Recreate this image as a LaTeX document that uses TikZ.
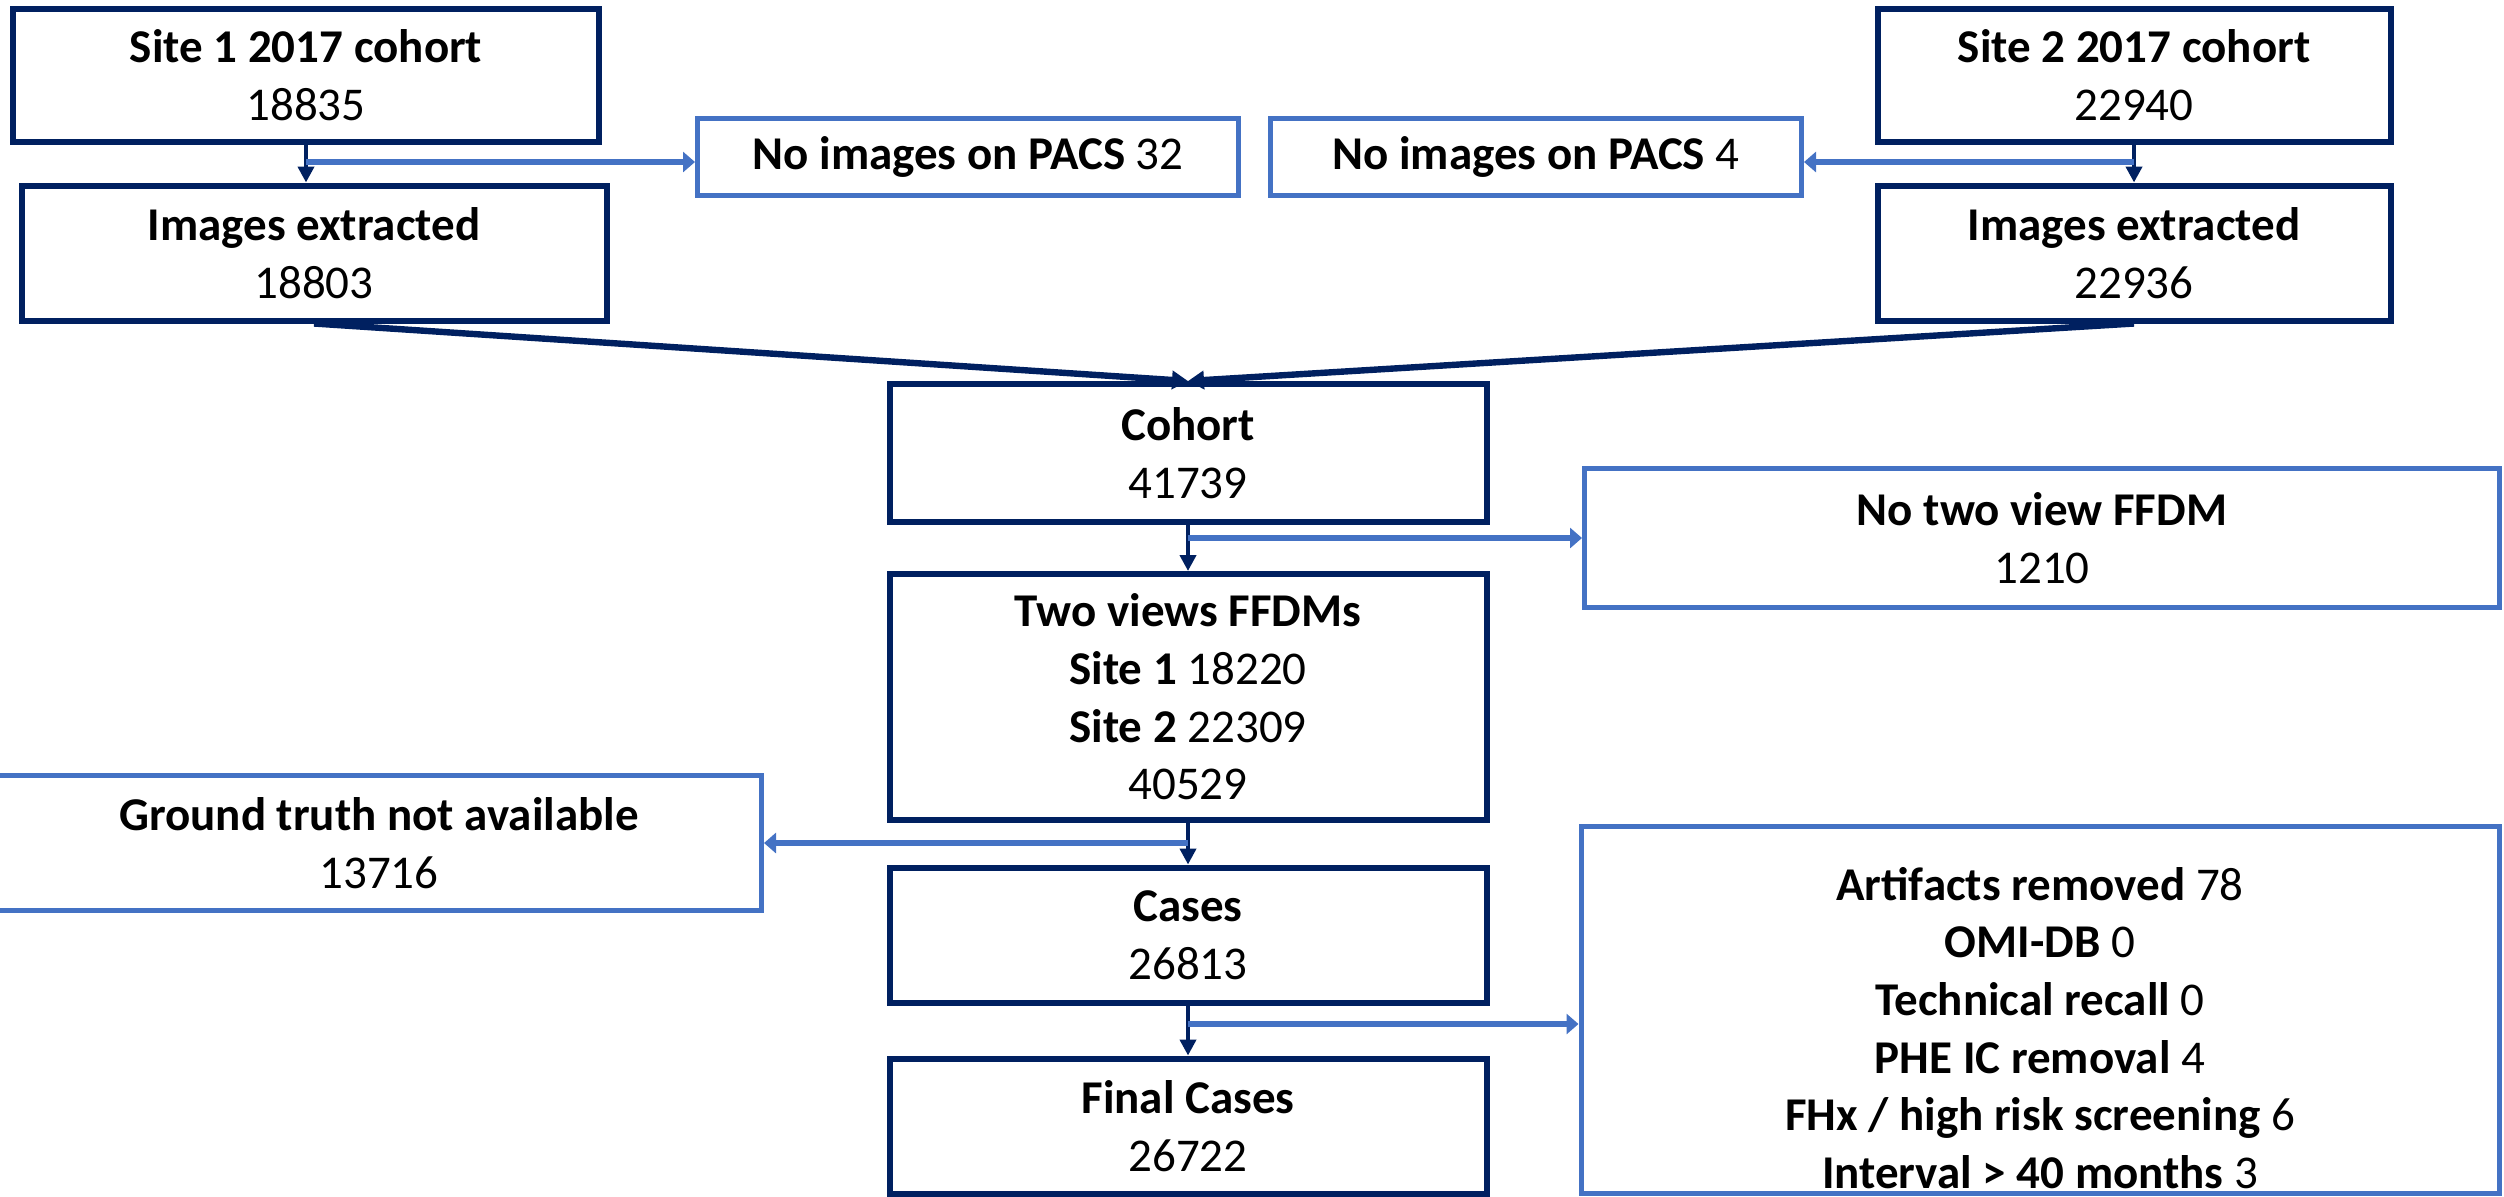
\documentclass[tikz,border=0pt]{standalone}
\usepackage{fontspec}
\setmainfont{Carlito}
\usetikzlibrary{arrows.meta}
\definecolor{navy}{HTML}{002060}
\definecolor{lblue}{HTML}{4472C4}
\tikzset{
  dbox/.style={draw=navy, line width=3pt, fill=white, align=center, inner sep=0pt,
    font=\fontsize{23.5}{28.8}\selectfont},
  lbox/.style={draw=lblue, line width=2.5pt, fill=white, align=center, inner sep=0pt,
    font=\fontsize{23.5}{28.8}\selectfont},
  txt/.style={align=center, inner sep=0pt, font=\fontsize{23.5}{28.8}\selectfont},
  darr/.style={draw=navy, line width=2.4pt, -{Triangle[length=8pt,width=8pt]}},
  dline/.style={draw=navy, line width=3.2pt, -{Triangle[length=8pt,width=9pt]}},
  larr/.style={draw=lblue, line width=2.8pt, -{Triangle[length=6pt,width=10pt]}},
}
\begin{document}
\begin{tikzpicture}[x=0.5pt,y=-0.5pt]
\useasboundingbox (0,0) rectangle (2504,1196);
% boxes
\node[dbox, minimum width=293pt, minimum height=66.5pt] (site1) at (306,75) {\textbf{Site 1 2017 cohort}\\18835};
\node[dbox, minimum width=292.5pt, minimum height=67.5pt] (img1) at (314,253) {\textbf{Images extracted}\\18803};
\node[lbox, minimum width=270.5pt, minimum height=38.5pt] (pacs1) at (968,157) {\textbf{No images on PACS} 32};
\node[lbox, minimum width=265.5pt, minimum height=38.5pt] (pacs2) at (1536,157) {\textbf{No images on PACS} 4};
\node[dbox, minimum width=256.5pt, minimum height=66.5pt] (site2) at (2134,75) {\textbf{Site 2 2017 cohort}\\22940};
\node[dbox, minimum width=256.5pt, minimum height=67.5pt] (img2) at (2134,253) {\textbf{Images extracted}\\22936};
\node[dbox, minimum width=298.5pt, minimum height=69pt] (cohort) at (1188,453) {\textbf{Cohort}\\41739};
\node[lbox, minimum width=457.5pt, minimum height=69.5pt] (notwo) at (2042,538) {\textbf{No two view FFDM}\\1210};
\node[dbox, minimum width=298.5pt, minimum height=123pt] (two) at (1188,697) {\textbf{Two views FFDMs}\\\textbf{Site 1} 18220\\\textbf{Site 2} 22309\\40529};
\node[lbox, minimum width=382.5pt, minimum height=67.5pt] (gt) at (379,843) {\textbf{Ground truth not available}\\13716};
\node[dbox, minimum width=298.5pt, minimum height=67.5pt] (cases) at (1188,935) {\textbf{Cases}\\26813};
\node[dbox, minimum width=298.5pt, minimum height=67.5pt] (final) at (1188,1126) {\textbf{Final Cases}\\26722};
\node[lbox, minimum width=459pt, minimum height=183.5pt] (excl) at (2040,1010) {};
\node[txt] (excltxt) at (2040,1028) {\textbf{Artifacts removed} 78\\\textbf{OMI-DB} 0\\\textbf{Technical recall} 0\\\textbf{PHE IC removal} 4\\\textbf{FHx / high risk screening} 6\\\textbf{Interval > 40 months} 3};
% branch points
\coordinate (b1) at (site1.south |- 0,162);
\coordinate (b2) at (site2.south |- 0,162);
\coordinate (b3) at (cohort.south |- notwo.west);
\coordinate (b4) at (two.south |- gt.east);
\coordinate (b5) at (cases.south |- 0,1024);
% main arrows
\draw[darr] (site1.south) -- (site1.south |- img1.north);
\draw[darr] (site2.south) -- (site2.south |- img2.north);
\draw[dline] (img1.south) -- (cohort.north);
\draw[dline] (img2.south) -- (cohort.north);
\draw[darr] (cohort.south) -- (two.north);
\draw[darr] (two.south) -- (cases.north);
\draw[darr] (cases.south) -- (final.north);
% exclusion arrows
\draw[larr] (b1) -- (pacs1.west |- b1);
\draw[larr] (b2) -- (pacs2.east |- b2);
\draw[larr] (b3) -- (notwo.west);
\draw[larr] (b4) -- (gt.east);
\draw[larr] (b5) -- (excl.west |- b5);
\end{tikzpicture}
\end{document}
